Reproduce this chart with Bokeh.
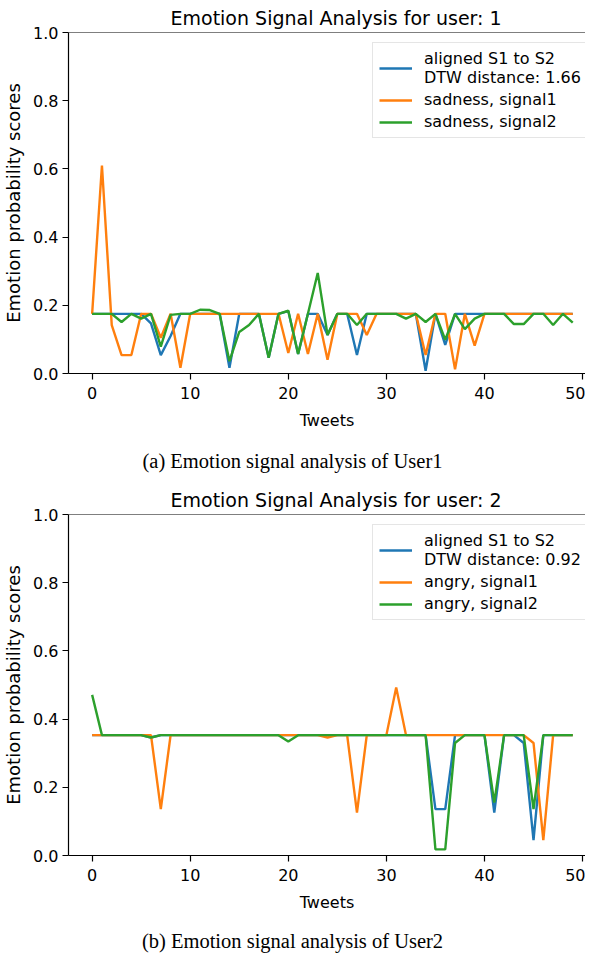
from bokeh.plotting import figure
from bokeh.models import Range1d, FixedTicker, Span, Legend, LegendItem, PrintfTickFormatter, Div
from bokeh.layouts import column
from bokeh.embed import file_html
from bokeh.resources import INLINE

tweets = list(range(50))
x_ticks = [0, 10, 20, 30, 40, 50]
y_ticks = [0.0, 0.2, 0.4, 0.6, 0.8, 1.0]

user1_aligned = [0.175, 0.175, 0.175, 0.175, 0.175, 0.175, 0.147, 0.054, 0.11, 0.175,
                 0.175, 0.175, 0.175, 0.175, 0.017, 0.175, 0.175, 0.175, 0.046, 0.175,
                 0.183, 0.057, 0.175, 0.175, 0.113, 0.175, 0.175, 0.054, 0.175, 0.175,
                 0.175, 0.175, 0.175, 0.175, 0.008, 0.175, 0.084, 0.175, 0.175, 0.175,
                 0.175, 0.175, 0.175, 0.175, 0.175, 0.175, 0.175, 0.175, 0.175, 0.175]
user1_signal1 = [0.175, 0.61, 0.142, 0.054, 0.054, 0.175, 0.175, 0.105, 0.175, 0.017,
                 0.175, 0.175, 0.175, 0.175, 0.175, 0.175, 0.175, 0.175, 0.175, 0.175,
                 0.060, 0.175, 0.057, 0.175, 0.040, 0.175, 0.175, 0.175, 0.113, 0.175,
                 0.175, 0.175, 0.175, 0.175, 0.054, 0.175, 0.175, 0.012, 0.175, 0.082,
                 0.175, 0.175, 0.175, 0.175, 0.175, 0.175, 0.175, 0.175, 0.175, 0.175]
user1_signal2 = [0.175, 0.175, 0.175, 0.151, 0.175, 0.161, 0.175, 0.079, 0.172, 0.175,
                 0.175, 0.187, 0.186, 0.175, 0.036, 0.122, 0.142, 0.175, 0.046, 0.175,
                 0.184, 0.057, 0.175, 0.295, 0.113, 0.175, 0.175, 0.142, 0.175, 0.175,
                 0.175, 0.175, 0.161, 0.175, 0.151, 0.175, 0.099, 0.175, 0.130, 0.161,
                 0.175, 0.175, 0.175, 0.145, 0.145, 0.175, 0.175, 0.142, 0.175, 0.149]

user2_aligned = [0.353, 0.353, 0.353, 0.353, 0.353, 0.353, 0.346, 0.353, 0.353, 0.353,
                 0.353, 0.353, 0.353, 0.353, 0.353, 0.353, 0.353, 0.353, 0.353, 0.353,
                 0.353, 0.353, 0.353, 0.353, 0.353, 0.353, 0.353, 0.353, 0.353, 0.353,
                 0.353, 0.353, 0.353, 0.353, 0.353, 0.136, 0.136, 0.353, 0.353, 0.353,
                 0.353, 0.126, 0.353, 0.353, 0.330, 0.045, 0.353, 0.353, 0.353, 0.353]
user2_signal1 = [0.353, 0.353, 0.353, 0.353, 0.353, 0.353, 0.353, 0.136, 0.353, 0.353,
                 0.353, 0.353, 0.353, 0.353, 0.353, 0.353, 0.353, 0.353, 0.353, 0.353,
                 0.353, 0.353, 0.353, 0.353, 0.346, 0.353, 0.353, 0.126, 0.353, 0.353,
                 0.353, 0.493, 0.353, 0.353, 0.353, 0.353, 0.353, 0.353, 0.353, 0.353,
                 0.353, 0.353, 0.353, 0.353, 0.353, 0.330, 0.045, 0.353, 0.353, 0.353]
user2_signal2 = [0.471, 0.353, 0.353, 0.353, 0.353, 0.353, 0.346, 0.353, 0.353, 0.353,
                 0.353, 0.353, 0.353, 0.353, 0.353, 0.353, 0.353, 0.353, 0.353, 0.353,
                 0.334, 0.353, 0.353, 0.353, 0.353, 0.353, 0.353, 0.353, 0.353, 0.353,
                 0.353, 0.353, 0.353, 0.353, 0.353, 0.018, 0.018, 0.330, 0.353, 0.353,
                 0.353, 0.155, 0.353, 0.353, 0.353, 0.136, 0.353, 0.353, 0.353, 0.353]

SANS = "DejaVu Sans"
SERIF = "Liberation Serif"
BLUE, ORANGE, GREEN = "#1f77b4", "#ff7f0e", "#2ca02c"


def make(title, aligned, s1, s2, emotion, dist):
    p = figure(width=585, height=433, output_backend="svg", toolbar_location=None,
               x_range=Range1d(-2.41, 50.3), y_range=Range1d(0, 1),
               min_border_left=60, min_border_right=0, min_border_top=25,
               min_border_bottom=60)
    p.outline_line_color = None
    p.xgrid.visible = False
    p.ygrid.visible = False
    p.background_fill_color = "white"
    p.border_fill_color = "white"

    p.title.text = title
    p.title.text_font = SANS
    p.title.text_font_size = "19px"
    p.title.text_font_style = "normal"
    p.title.text_color = "black"
    p.title.align = "left"
    p.title.offset = 102
    p.title.standoff = 8

    for ax in (p.xaxis[0], p.yaxis[0]):
        ax.axis_line_color = "black"
        ax.axis_line_width = 1.2
        ax.major_tick_line_color = "black"
        ax.major_tick_line_width = 1.2
        ax.major_tick_in = 0
        ax.major_tick_out = 6
        ax.minor_tick_line_color = None
        ax.major_label_text_font = SANS
        ax.major_label_text_font_size = "16px"
        ax.major_label_text_color = "black"
        ax.axis_label_text_font = SANS
        ax.axis_label_text_font_style = "normal"
        ax.axis_label_text_color = "black"

    p.xaxis.ticker = FixedTicker(ticks=x_ticks)
    p.yaxis.ticker = FixedTicker(ticks=y_ticks)
    p.yaxis.formatter = PrintfTickFormatter(format="%.1f")
    p.xaxis.major_label_standoff = 7
    p.yaxis.major_label_standoff = 4
    p.xaxis.axis_label = "Tweets"
    p.xaxis.axis_label_text_font_size = "16px"
    p.xaxis.axis_label_standoff = 9
    p.yaxis.axis_label = "Emotion probability scores"
    p.yaxis.axis_label_text_font_size = "18px"
    p.yaxis.axis_label_standoff = 6

    p.add_layout(Span(location=1.0, dimension="width", line_color="black", line_width=1.2))

    r1 = p.line(tweets, aligned, line_color=BLUE, line_width=2.4)
    r2 = p.line(tweets, s1, line_color=ORANGE, line_width=2.4)
    r3 = p.line(tweets, s2, line_color=GREEN, line_width=2.4)

    legend = Legend(items=[
        LegendItem(label="aligned S1 to S2\nDTW distance: " + dist, renderers=[r1]),
        LegendItem(label=emotion + ", signal1", renderers=[r2]),
        LegendItem(label=emotion + ", signal2", renderers=[r3]),
    ], location=(304, 235))
    legend.padding = 6
    legend.spacing = 3
    legend.glyph_width = 33
    legend.glyph_height = 16
    legend.label_standoff = 12
    legend.label_text_font = SANS
    legend.label_text_font_size = "16px"
    legend.label_text_color = "black"
    legend.border_line_color = "#cccccc"
    legend.border_line_width = 1
    legend.background_fill_alpha = 0.8
    p.add_layout(legend)
    return p


def caption_div(text, height, pad, line_h):
    html = ('<div style="font-family: \'Liberation Serif\', serif; font-size: 20.5px; '
            'line-height: %dpx; color: black; text-align: center; width: 585px; '
            'padding-top: %dpx;">%s</div>' % (line_h, pad, text))
    return Div(text=html, width=585, height=height, margin=0)


p1 = make("Emotion Signal Analysis for user: 1",
          user1_aligned, user1_signal1, user1_signal2, "sadness", "1.66")
p2 = make("Emotion Signal Analysis for user: 2",
          user2_aligned, user2_signal1, user2_signal2, "angry", "0.92")
c1 = caption_div("(a) Emotion signal analysis of User1", 49, 17, 22)
c2 = caption_div("(b) Emotion signal analysis of User2", 30, 22, 8)

layout = column(p1, c1, p2, c2, spacing=0)
open("out.html", "w").write(file_html(layout, INLINE))
